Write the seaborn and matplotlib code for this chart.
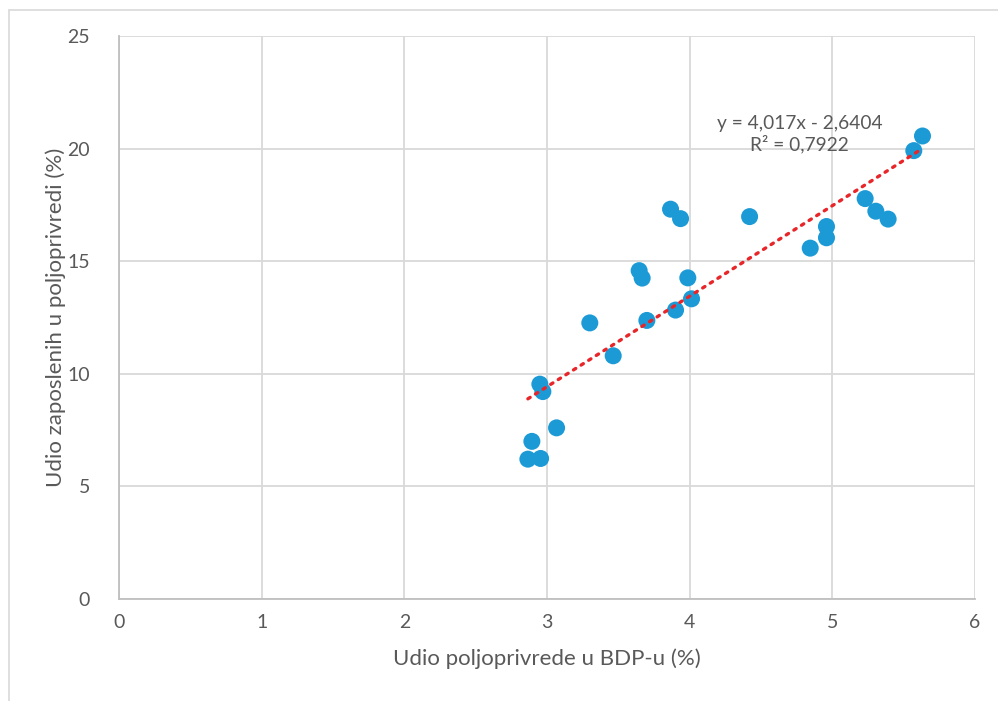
import matplotlib
matplotlib.use('Agg')
import matplotlib.pyplot as plt
import seaborn as sns
import pandas as pd
from matplotlib.lines import Line2D

# Udio poljoprivrede u BDP-u (%) vs udio zaposlenih u poljoprivredi (%)
gdp_share = [2.866, 2.894, 2.955, 2.950, 2.971, 3.067, 3.30, 3.464, 3.646, 3.667,
             3.700, 3.866, 3.901, 3.936, 3.987, 4.013, 4.420, 4.845, 4.959, 4.959,
             5.230, 5.305, 5.391, 5.571, 5.632]
emp_share = [6.21, 7.00, 6.24, 9.54, 9.21, 7.60, 12.26, 10.80, 14.58, 14.25,
             12.37, 17.31, 12.83, 16.89, 14.26, 13.33, 16.98, 15.58, 16.54, 16.04,
             17.78, 17.22, 16.87, 19.91, 20.56]

x_ticks = [0, 1, 2, 3, 4, 5, 6]
y_ticks = [0, 5, 10, 15, 20, 25]
equation_text = 'y = 4,017x - 2,6404\nR² = 0,7922'
x_label = 'Udio poljoprivrede u BDP-u (%)'
y_label = 'Udio zaposlenih u poljoprivredi (%)'

df = pd.DataFrame({'gdp': gdp_share, 'emp': emp_share})

sns.set_style('white')
plt.rcParams['font.family'] = ['Lato', 'DejaVu Sans']

text_col = '#595959'
grid_col = '#D9D9D9'

fig = plt.figure(figsize=(9.98, 7.01), dpi=100)
ax = fig.add_axes([119 / 998, 1 - 599 / 701, (975 - 119) / 998, (599 - 36) / 701])

# outer chart border (only left and top visible)
fig.add_artist(Line2D([9 / 998, 9 / 998], [0, 1 - 10 / 701], color='#D9D9D9', lw=1.2,
                      transform=fig.transFigure))
fig.add_artist(Line2D([9 / 998, 1], [1 - 10 / 701, 1 - 10 / 701], color='#D9D9D9', lw=1.2,
                      transform=fig.transFigure))

sns.regplot(data=df, x='gdp', y='emp', scatter=False, ci=None, ax=ax,
            line_kws=dict(color='#E8262A', lw=2.4, linestyle=(0, (0.8, 1.9)),
                          dash_capstyle='round', zorder=4))
sns.scatterplot(data=df, x='gdp', y='emp', ax=ax, s=150, color='#1B9AD6',
                edgecolor='none', zorder=3, legend=False)

ax.set_xlim(0, 6)
ax.set_ylim(0, 25)
ax.set_xticks(x_ticks)
ax.set_yticks(y_ticks)
ax.grid(True, color=grid_col, lw=1.3, zorder=0)
ax.set_axisbelow(True)
for side in ['top', 'right']:
    ax.spines[side].set_visible(False)
for side in ['left', 'bottom']:
    ax.spines[side].set_color('#BFBFBF')
    ax.spines[side].set_linewidth(1.3)

ax.tick_params(axis='both', length=0, labelsize=14, labelcolor=text_col)
ax.tick_params(axis='x', pad=11)
ax.tick_params(axis='y', pad=21)

ax.set_xlabel(x_label, fontsize=16, color=text_col, labelpad=12)
ax.set_ylabel(y_label, fontsize=16, color=text_col, labelpad=1)

ax.text(4.77, 20.65, equation_text, ha='center', va='center', multialignment='center',
        fontsize=13.8, color=text_col, linespacing=1.2)

fig.savefig('out.png', dpi=100)
